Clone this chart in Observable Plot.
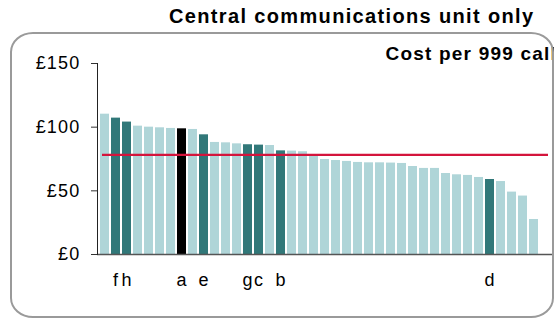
<!DOCTYPE html>
<html><head><meta charset="utf-8">
<script src="https://cdn.jsdelivr.net/npm/d3@7"></script>
<script src="https://cdn.jsdelivr.net/npm/@observablehq/plot@0.6"></script>
<style>
body{margin:0;background:#fff;font-family:"Liberation Sans",Arial,sans-serif;}
#wrap{position:relative;width:554px;height:320px;overflow:hidden;}
#title{position:absolute;left:169px;top:4px;font-weight:bold;font-size:20px;letter-spacing:1.35px;white-space:nowrap;line-height:24px;color:#000;}
#box{position:absolute;left:10px;top:32px;width:544px;height:286px;box-sizing:border-box;border:2px solid #9a9a9a;border-radius:23px/20px;pointer-events:none;}
#chart{position:absolute;left:0;top:32px;}
</style>
</head><body>
<div id="wrap">
  <div id="title">Central communications unit only</div>
  <div id="chart"></div>
  <div id="box"></div>
</div>
<script>
const titleText = "Central communications unit only";
const panelLabel = "Cost per 999 calls";
const values = [110.2, 107.1, 104.0, 100.8, 100.0, 99.5, 99.0, 98.7, 98.2, 94.0,
                88.0, 87.7, 86.9, 86.2, 85.9, 85.6, 81.4, 81.2, 80.7, 77.8,
                74.6, 73.8, 73.1, 72.3, 72.0, 72.0, 71.8, 71.5, 69.1, 67.6,
                67.6, 63.6, 62.6, 62.1, 60.5, 58.9, 57.3, 49.0, 45.9, 27.5];
const kinds = ["other","highlight","highlight","other","other","other","other","selected","other","highlight",
               "other","other","other","highlight","highlight","other","highlight","other","other","other",
               "other","other","other","other","other","other","other","other","other","other",
               "other","other","other","other","other","highlight","other","other","other","other"];
const labels = ["","f","h","","","","","a","","e",
                "","","","g","c","","b","","","",
                "","","","","","","","","","",
                "","","","","","d","","","",""];
const average = 78.3;
const yTicks = [0, 50, 100, 150];

const data = values.map((v, i) => ({i, v, kind: kinds[i]}));

const chart = Plot.plot({
  width: 554, height: 288,
  marginTop: 31, marginBottom: 66, marginLeft: 97, marginRight: 1,
  style: {fontFamily: '"Liberation Sans", Arial, sans-serif', fontSize: "18px", background: "transparent", color: "#000", letterSpacing: "1.2px", overflow: "visible"},
  x: {type: "band", domain: d3.range(values.length), range: [96, 543], padding: 0.18, label: null},
  y: {domain: [0, 150], label: null},
  color: {domain: ["other", "highlight", "selected"], range: ["#afd5d8", "#317879", "#000000"]},
  marks: [
    Plot.barY(data, {x: "i", y: "v", fill: "kind"}),
    Plot.ruleY([0], {stroke: "#555", strokeWidth: 1.6}),
    Plot.frame({anchor: "left", stroke: "#222"}),
    Plot.axisY({ticks: yTicks, tickFormat: d => "£" + d, tickSize: 6, tickPadding: 11, fontSize: 18, stroke: "#333", label: null}),
    Plot.axisX({tickSize: 0, tickPadding: 19, tickFormat: i => labels[i], fontSize: 18, label: null}),
    Plot.ruleY([average], {stroke: "#d4143c", strokeWidth: 2.2, insetLeft: 5, insetRight: 5}),
    Plot.text([panelLabel], {frameAnchor: "top-left", dx: 288, dy: -10, fontWeight: "bold", fontSize: 19, textAnchor: "start", lineAnchor: "middle"})
  ]
});
document.getElementById("chart").appendChild(chart);
</script>
</body></html>
